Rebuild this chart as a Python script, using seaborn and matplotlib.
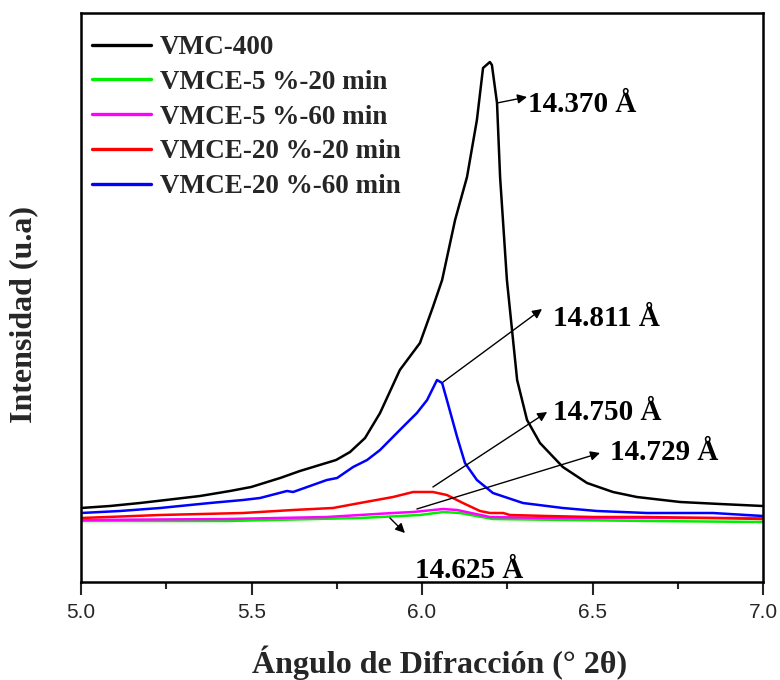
import numpy as np
import pandas as pd
import matplotlib
matplotlib.use("Agg")
import matplotlib.pyplot as plt
import seaborn as sns

# ---------------- data ----------------
series_names = ["VMC-400", "VMCE-5 %-20 min", "VMCE-5 %-60 min",
                "VMCE-20 %-20 min", "VMCE-20 %-60 min"]
series_colors = ["#000000", "#00ee00", "#ff00ff", "#ff0000", "#0000ff"]

x_vmc400 = [5.000, 5.085, 5.173, 5.249, 5.349, 5.437, 5.499, 5.584, 5.642, 5.748,
            5.789, 5.833, 5.877, 5.935, 5.994, 6.032, 6.059, 6.097, 6.132, 6.161,
            6.179, 6.199, 6.205, 6.220, 6.229, 6.249, 6.264, 6.279, 6.308, 6.346,
            6.413, 6.484, 6.560, 6.630, 6.757, 6.874, 7.000]
y_vmc400 = [74, 76, 79, 82, 86, 91, 95, 104, 111, 122,
            130, 144, 169, 212, 239, 275, 302, 362, 405, 462,
            514, 520, 517, 479, 405, 302, 252, 202, 162, 139,
            115, 99, 90, 85, 80, 78, 76]

x_5_20 = [5.000, 5.428, 5.818, 5.994, 6.062, 6.111, 6.208, 6.660, 7.000]
y_5_20 = [61, 61, 64, 67, 70, 69, 63, 61, 60]

x_5_60 = [5.000, 5.428, 5.721, 5.915, 5.974, 6.062, 6.103, 6.199, 6.367, 6.660, 7.000]
y_5_60 = [62, 63, 65, 69, 70, 73, 72, 65, 64, 64, 64]

x_20_20 = [5.000, 5.232, 5.475, 5.622, 5.739, 5.818, 5.915, 5.974, 6.032, 6.073,
           6.120, 6.170, 6.199, 6.238, 6.258, 6.367, 6.501, 6.660, 6.853, 7.000]
y_20_20 = [64, 67, 69, 72, 74, 79, 85, 90, 90, 87,
           79, 71, 69, 69, 67, 66, 65, 65, 64, 63]

x_20_60 = [5.000, 5.114, 5.232, 5.378, 5.475, 5.525, 5.604, 5.622, 5.721, 5.751,
           5.798, 5.839, 5.877, 5.935, 5.985, 6.015, 6.044, 6.059, 6.073, 6.103,
           6.126, 6.161, 6.208, 6.296, 6.413, 6.513, 6.660, 6.853, 7.000]
y_20_60 = [69, 71, 74, 79, 82, 84, 91, 90, 102, 104,
           115, 122, 132, 152, 169, 182, 202, 199, 182, 145,
           119, 102, 89, 79, 74, 71, 69, 69, 66]

peak_labels = ["14.370 Å", "14.811 Å", "14.750 Å", "14.729 Å", "14.625 Å"]
x_ticks = [5.0, 5.5, 6.0, 6.5, 7.0]

# ---------------- build frame ----------------
xs = [x_vmc400, x_5_20, x_5_60, x_20_20, x_20_60]
ys = [y_vmc400, y_5_20, y_5_60, y_20_20, y_20_60]
frames = []
for name, xv, yv in zip(series_names, xs, ys):
    frames.append(pd.DataFrame({"theta": xv, "I": yv, "muestra": name}))
df = pd.concat(frames, ignore_index=True)

sns.set_style("white")
serif = ["Liberation Serif", "DejaVu Serif"]
sans = ["Liberation Sans", "DejaVu Sans"]

fig = plt.figure(figsize=(7.8, 6.8), dpi=100)
ax = fig.add_axes([81/780, 1 - 582/680, (763-81)/780, (582-13)/680])

sns.lineplot(data=df, x="theta", y="I", hue="muestra", hue_order=series_names,
             palette=dict(zip(series_names, series_colors)), sort=False,
             estimator=None, linewidth=1.8, ax=ax)

ax.set_xlim(5.0, 7.0)
ax.set_ylim(0, 569)
ax.set_xticks(x_ticks)
ax.set_xticklabels([f"{t:.1f}" for t in x_ticks], fontfamily=sans, fontsize=15)
ax.set_xticks(np.arange(5.25, 7.0, 0.5), minor=True)
ax.set_yticks([])
ax.tick_params(axis="x", which="major", direction="out", length=9, width=1.5,
               bottom=True, pad=6)
ax.tick_params(axis="x", which="minor", direction="out", length=5, width=1.5,
               bottom=True)
for s in ax.spines.values():
    s.set_linewidth(1.8)
    s.set_color("black")

ax.set_xlabel("Ángulo de Difracción (° 2θ)", fontfamily=serif, fontweight="bold",
              fontsize=23)
ax.xaxis.set_label_coords(0.526, -0.111)
ax.set_ylabel("Intensidad (u.a)", fontfamily=serif, fontweight="bold",
              fontsize=23)
ax.yaxis.set_label_coords(-0.063, 0.471)

leg = ax.legend(loc="upper left", bbox_to_anchor=(0.0, 0.980), frameon=False,
                handlelength=2.2, handletextpad=0.3, labelspacing=0.36,
                borderaxespad=0.0, borderpad=0.4,
                prop={"family": serif, "weight": "bold", "size": 19.5})
for line in leg.get_lines():
    line.set_linewidth(2.4)

# ---------------- annotations ----------------
ann = [
    (peak_labels[0], (6.220, 479), (6.308, 485), (6.311, 478)),
    (peak_labels[1], (6.062, 200), (6.352, 273), (6.384, 264)),
    (peak_labels[2], (6.032, 95), (6.367, 170), (6.384, 170)),
    (peak_labels[3], (5.985, 73), (6.522, 129), (6.551, 130)),
    (peak_labels[4], (5.906, 64), (5.950, 49), (5.979, 12)),
]
for label, start, end, tpos in ann:
    ax.annotate("", xy=end, xytext=start,
                arrowprops=dict(arrowstyle="-|>", color="black", lw=1.0,
                                mutation_scale=14, shrinkA=0, shrinkB=0))
    ax.text(tpos[0], tpos[1], label, fontfamily=serif, fontweight="bold",
            fontsize=21, va="center", ha="left", color="black")

fig.savefig("out.png", dpi=100)
